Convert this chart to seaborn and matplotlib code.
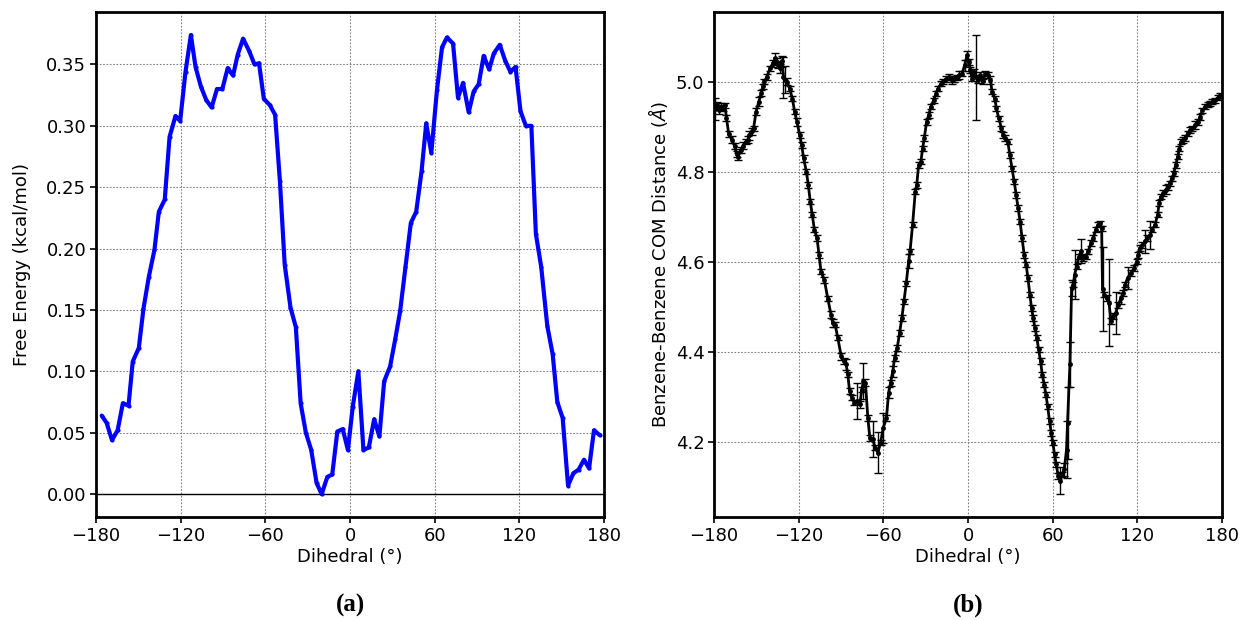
import numpy as np
import pandas as pd
import matplotlib
matplotlib.use("Agg")
import matplotlib.pyplot as plt
import seaborn as sns
from matplotlib.ticker import FormatStrFormatter

# ---- (a) free energy profile along the dihedral ----
fe_dihedral = [-176, -172.5, -168.7, -164.7, -161, -157, -154, -149.7, -146.4, -142.6,
               -138.6, -135.5, -131.3, -127.9, -123.7, -120.4, -116.6, -112.8, -109.5, -105.7,
               -101.9, -98.1, -94.3, -90.5, -86.7, -82.9, -79.6, -75.8, -71.5, -67.7,
               -64.5, -61.1, -56.9, -53.1, -49.7, -46.3, -42.2, -38.4, -35, -31.3,
               -27.5, -23.7, -20.1, -16.1, -12.6, -9, -5.2, -1.5, 1.9, 5.9,
               9.5, 13.3, 17.1, 20.8, 24.2, 28.4, 32, 35.5, 39.3, 43.1,
               46.9, 50.7, 54, 57.6, 61.6, 65.2, 68.7, 73, 76.5, 80.1,
               84.1, 87.6, 91.2, 94.7, 98.6, 101.9, 106.1, 110, 113.7, 117.3,
               120.8, 124.6, 128.5, 131.7, 135.5, 139.8, 143.6, 146.9, 150.7, 154.5,
               158.3, 162, 165.8, 169.4, 172.9, 177]
fe_energy = [0.064, 0.058, 0.044, 0.052, 0.074, 0.072, 0.108, 0.119, 0.151, 0.177,
             0.199, 0.230, 0.240, 0.291, 0.308, 0.304, 0.344, 0.374, 0.348, 0.332,
             0.321, 0.315, 0.330, 0.330, 0.347, 0.341, 0.358, 0.371, 0.361, 0.350,
             0.351, 0.322, 0.317, 0.309, 0.255, 0.187, 0.152, 0.136, 0.074, 0.050,
             0.036, 0.009, 0.000, 0.014, 0.016, 0.051, 0.053, 0.036, 0.071, 0.100,
             0.036, 0.038, 0.061, 0.047, 0.092, 0.104, 0.126, 0.149, 0.185, 0.221,
             0.230, 0.263, 0.302, 0.278, 0.329, 0.364, 0.372, 0.367, 0.323, 0.335,
             0.311, 0.328, 0.334, 0.357, 0.346, 0.359, 0.366, 0.353, 0.344, 0.348,
             0.312, 0.300, 0.300, 0.212, 0.185, 0.137, 0.114, 0.075, 0.062, 0.007,
             0.017, 0.020, 0.028, 0.021, 0.052, 0.048]

# ---- (b) benzene-benzene centre-of-mass distance with standard errors ----
com_dihedral = [-179.5, -178, -176.5, -175, -173.5, -172.3, -171.2, -169.6, -167.5, -165.5,
                -164, -163, -161, -159.5, -157.7, -156, -154.9, -153, -152, -150.2,
                -148.3, -146.5, -145.2, -144.3, -142.6, -140.3, -138.4, -136.5, -135.5, -134.5,
                -133.2, -132, -130.8, -129.5, -128.3, -126.4, -124.5, -122.9, -121.2, -119.3,
                -117.9, -116.5, -114.6, -113.2, -111.8, -110.4, -108.9, -107, -105.6, -104.2,
                -101.8, -99.4, -97.1, -95.9, -94.2, -92.3, -89.9, -88, -86.4, -85.2,
                -84, -82.4, -80.5, -78.6, -76.7, -75.3, -74.1, -72.7, -71, -69.6,
                -67.5, -65.8, -63.9, -62, -60.1, -57.8, -56.3, -54.9, -53.3, -52.1,
                -50.2, -48.5, -46.9, -45.4, -43.8, -42.1, -41.1, -39.3, -37.4, -36.4,
                -35, -33.4, -32.2, -31, -29.4, -27.9, -26.3, -24.4, -22.7, -21.3,
                -19.2, -17.5, -15.6, -13.3, -11.4, -9.7, -8.1, -6.2, -4.3, -2.4,
                -0.7, 0.5, 1.7, 2.8, 4, 5.7, 7.1, 8.8, 10.4, 12.3,
                14.2, 15.9, 17, 19, 20.1, 21.8, 23.7, 24.9, 26.5, 28.2,
                29.6, 31.2, 32.7, 34.1, 35.5, 36.9, 38.3, 39.8, 41.2, 42.4,
                43.8, 45, 46.2, 47.4, 48.8, 50, 51.4, 52.6, 54, 55.2,
                56.4, 57.8, 59, 60.1, 61.3, 62.5, 63.9, 65.3, 66.7, 68.2,
                69.8, 70.5, 72.2, 73.4, 74.6, 75.5, 76.9, 78.5, 80, 81.4,
                83.3, 85.2, 87.1, 88.8, 90.4, 92.3, 93.7, 94.7, 95.3, 96.6,
                98.2, 99.9, 101.3, 102.9, 104.6, 106.5, 108.4, 110.1, 111.3, 113.1,
                115.5, 117.9, 119.5, 120.7, 121.9, 123.5, 125.4, 127.1, 129, 130.6,
                132.5, 134.4, 135.4, 136.8, 138.5, 140.1, 141.5, 143.2, 144.4, 145.8,
                147.2, 148.6, 149.8, 151, 152.2, 153.9, 155.7, 157.4, 159, 160.9,
                162.8, 164.5, 166.1, 168, 169.9, 171.6, 173.2, 175.1, 177, 178.7]
com_distance = [4.940, 4.948, 4.937, 4.945, 4.942, 4.948, 4.920, 4.884, 4.872, 4.858,
                4.840, 4.834, 4.849, 4.858, 4.867, 4.872, 4.882, 4.890, 4.897, 4.934,
                4.956, 4.975, 4.990, 5.001, 5.011, 5.030, 5.041, 5.052, 5.045, 5.038,
                5.030, 5.046, 5.010, 5.005, 5.000, 4.985, 4.963, 4.934, 4.911, 4.882,
                4.860, 4.830, 4.801, 4.771, 4.734, 4.705, 4.672, 4.653, 4.616, 4.579,
                4.560, 4.519, 4.483, 4.465, 4.461, 4.432, 4.391, 4.380, 4.373, 4.351,
                4.314, 4.299, 4.288, 4.291, 4.284, 4.317, 4.336, 4.332, 4.254, 4.210,
                4.207, 4.188, 4.177, 4.199, 4.232, 4.254, 4.310, 4.332, 4.358, 4.387,
                4.409, 4.443, 4.476, 4.513, 4.553, 4.602, 4.624, 4.683, 4.756, 4.771,
                4.815, 4.823, 4.852, 4.875, 4.911, 4.926, 4.945, 4.959, 4.974, 4.985,
                4.996, 5.001, 5.006, 5.011, 5.004, 5.006, 5.009, 5.015, 5.018, 5.037,
                5.059, 5.044, 5.026, 5.007, 5.022, 5.010, 5.004, 5.015, 5.001, 5.018,
                5.015, 5.004, 4.978, 4.963, 4.941, 4.919, 4.897, 4.882, 4.875, 4.867,
                4.838, 4.808, 4.779, 4.749, 4.720, 4.690, 4.653, 4.616, 4.594, 4.565,
                4.528, 4.498, 4.476, 4.454, 4.432, 4.406, 4.380, 4.350, 4.328, 4.306,
                4.280, 4.247, 4.221, 4.199, 4.173, 4.151, 4.125, 4.115, 4.129, 4.140,
                4.184, 4.243, 4.373, 4.543, 4.550, 4.572, 4.590, 4.612, 4.624, 4.609,
                4.612, 4.624, 4.642, 4.653, 4.672, 4.683, 4.686, 4.675, 4.540, 4.528,
                4.520, 4.510, 4.469, 4.480, 4.487, 4.505, 4.520, 4.531, 4.550, 4.565,
                4.576, 4.587, 4.601, 4.616, 4.631, 4.638, 4.646, 4.653, 4.660, 4.672,
                4.683, 4.705, 4.731, 4.745, 4.753, 4.760, 4.767, 4.775, 4.786, 4.797,
                4.815, 4.834, 4.852, 4.867, 4.871, 4.875, 4.886, 4.893, 4.897, 4.904,
                4.911, 4.922, 4.937, 4.945, 4.950, 4.952, 4.956, 4.959, 4.965, 4.970]
com_error = [0.024, 0.008, 0.008, 0.008, 0.006, 0.006, 0.006, 0.006, 0.008, 0.006,
             0.006, 0.008, 0.006, 0.008, 0.006, 0.008, 0.010, 0.008, 0.006, 0.008,
             0.010, 0.006, 0.006, 0.006, 0.006, 0.006, 0.008, 0.012, 0.008, 0.008,
             0.010, 0.012, 0.046, 0.030, 0.008, 0.006, 0.006, 0.006, 0.008, 0.006,
             0.006, 0.008, 0.006, 0.006, 0.006, 0.006, 0.006, 0.006, 0.006, 0.006,
             0.006, 0.006, 0.008, 0.008, 0.006, 0.006, 0.008, 0.006, 0.012, 0.006,
             0.006, 0.006, 0.006, 0.040, 0.008, 0.006, 0.040, 0.008, 0.006, 0.006,
             0.040, 0.006, 0.046, 0.006, 0.034, 0.006, 0.012, 0.006, 0.012, 0.006,
             0.006, 0.006, 0.006, 0.006, 0.006, 0.015, 0.006, 0.006, 0.006, 0.006,
             0.006, 0.006, 0.006, 0.006, 0.006, 0.006, 0.006, 0.006, 0.006, 0.006,
             0.006, 0.006, 0.006, 0.006, 0.008, 0.006, 0.006, 0.008, 0.006, 0.012,
             0.010, 0.006, 0.006, 0.006, 0.006, 0.094, 0.006, 0.006, 0.006, 0.006,
             0.006, 0.008, 0.006, 0.006, 0.006, 0.006, 0.006, 0.006, 0.006, 0.006,
             0.006, 0.006, 0.006, 0.006, 0.006, 0.006, 0.006, 0.006, 0.006, 0.006,
             0.006, 0.006, 0.006, 0.006, 0.006, 0.006, 0.006, 0.006, 0.006, 0.006,
             0.006, 0.006, 0.006, 0.006, 0.006, 0.006, 0.006, 0.030, 0.006, 0.015,
             0.064, 0.080, 0.050, 0.018, 0.006, 0.054, 0.006, 0.006, 0.027, 0.006,
             0.006, 0.006, 0.006, 0.006, 0.006, 0.006, 0.006, 0.006, 0.093, 0.006,
             0.006, 0.096, 0.006, 0.006, 0.047, 0.006, 0.012, 0.006, 0.006, 0.024,
             0.006, 0.006, 0.006, 0.006, 0.006, 0.006, 0.026, 0.006, 0.032, 0.006,
             0.006, 0.006, 0.006, 0.006, 0.006, 0.010, 0.006, 0.006, 0.006, 0.006,
             0.006, 0.006, 0.006, 0.006, 0.006, 0.006, 0.006, 0.006, 0.006, 0.008,
             0.006, 0.006, 0.006, 0.006, 0.006, 0.006, 0.006, 0.006, 0.006, 0.006]

x_ticks = [-180, -120, -60, 0, 60, 120, 180]

fe_df = pd.DataFrame({"dihedral": fe_dihedral, "energy": fe_energy})
com_df = pd.DataFrame({"dihedral": com_dihedral, "distance": com_distance, "err": com_error})

sns.set_theme(style="ticks")
plt.rcParams["font.family"] = ["DejaVu Sans"]
plt.rcParams["mathtext.fontset"] = "dejavusans"
plt.rcParams.update({"text.color": "black", "axes.labelcolor": "black",
                     "xtick.color": "black", "ytick.color": "black"})

fig = plt.figure(figsize=(12.49, 6.20), dpi=100)
ax_a = fig.add_axes([0.0769, 0.166, 0.4067, 0.8146])
ax_b = fig.add_axes([0.5717, 0.166, 0.4067, 0.8146])

grid_kw = dict(color="#808080", linestyle=(0, (1.5, 1.5)), linewidth=0.8)

# (a) free energy
ax_a.axhline(0, color="black", linewidth=1.0, zorder=1)
sns.lineplot(data=fe_df, x="dihedral", y="energy", ax=ax_a, color="#0000ff",
             linewidth=3, marker="o", markersize=3, markeredgewidth=0,
             estimator=None, sort=False, zorder=3)
ax_a.set_xlim(-180, 180)
ax_a.set_ylabel("Free Energy (kcal/mol)", fontsize=13, labelpad=11)
ax_a.yaxis.set_major_formatter(FormatStrFormatter("%.2f"))

# (b) COM distance with error bars
ax_b.errorbar(com_df["dihedral"], com_df["distance"], yerr=com_df["err"],
              fmt="none", ecolor="black", elinewidth=1.0, capsize=3, capthick=1.0,
              zorder=2)
sns.lineplot(data=com_df, x="dihedral", y="distance", ax=ax_b, color="black",
             linewidth=2, marker="o", markersize=3.5, markeredgewidth=0,
             estimator=None, sort=False, zorder=3)
ax_b.set_xlim(-180, 180)
ax_b.set_yticks([4.2, 4.4, 4.6, 4.8, 5.0])
ax_b.yaxis.set_major_formatter(FormatStrFormatter("%.1f"))
ax_b.set_ylabel(r"Benzene-Benzene COM Distance ($\mathit{\AA}$)", fontsize=13)

for ax in (ax_a, ax_b):
    ax.set_xticks(x_ticks)
    ax.set_xticklabels([f"{t:d}".replace("-", "\u2212") for t in x_ticks])
    ax.set_xlabel("Dihedral (\u00b0)", fontsize=13, labelpad=2)
    ax.grid(True, **grid_kw)
    ax.set_axisbelow(True)
    ax.tick_params(axis="both", labelsize=13, direction="out", length=4, width=1.2,
                   color="black", labelcolor="black", pad=3)
    for spine in ax.spines.values():
        spine.set_visible(True)
        spine.set_color("black")
        spine.set_linewidth(2)

fig.text(0.2803, 0.023, "(a)", ha="center", va="center", fontsize=18,
         fontweight="bold", family="Liberation Serif", color="black")
fig.text(0.775, 0.023, "(b)", ha="center", va="center", fontsize=18,
         fontweight="bold", family="Liberation Serif", color="black")

fig.savefig("out.png", dpi=100)
